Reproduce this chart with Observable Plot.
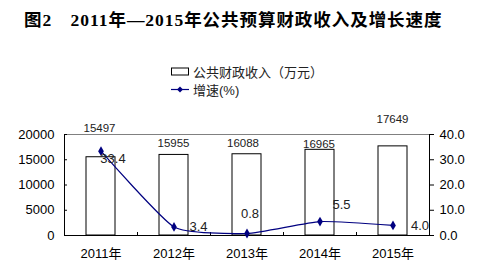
<!DOCTYPE html>
<html><head><meta charset="utf-8">
<script src="https://cdn.jsdelivr.net/npm/d3@7"></script>
<script src="https://cdn.jsdelivr.net/npm/@observablehq/plot@0.6"></script>
<style>
body{margin:0;background:#fff;width:484px;height:269px;position:relative;overflow:hidden;}
#title{position:absolute;left:24px;top:6px;font-weight:bold;font-size:17.5px;font-family:"Liberation Serif","Noto Sans CJK SC",serif;white-space:nowrap;color:#000;letter-spacing:0.95px;}
.leg{position:absolute;left:171px;font-size:13px;font-family:"Liberation Sans","Noto Sans CJK SC",sans-serif;color:#222;white-space:nowrap;display:flex;align-items:center;}
.leg svg{margin-right:4px;}
#chart{position:absolute;left:0;top:110px;}
</style></head>
<body>
<div id="title">图2　2011年—2015年公共预算财政收入及增长速度</div>
<div class="leg" style="top:62px;"><svg width="18" height="9"><rect x="0.5" y="1" width="17" height="7" fill="#fff" stroke="#000"/></svg>公共财政收入（万元）</div>
<div class="leg" style="top:80px;"><svg width="18" height="9"><line x1="0" y1="4.5" x2="18" y2="4.5" stroke="#000080" stroke-width="1.2"/><path d="M9,1.5L12,4.5L9,7.5L6,4.5Z" fill="#000080"/></svg>增速(%)</div>
<div id="chart"></div>
<script>
const years = ["2011年", "2012年", "2013年", "2014年", "2015年"];
const revenue = [15497, 15955, 16088, 16965, 17649];
const growth = [33.4, 3.4, 0.8, 5.5, 4.0];
const revenueTicks = [0, 5000, 10000, 15000, 20000];
const growthTicks = [0, 10, 20, 30, 40];

const k = 20000 / 40; // right axis (growth %) mapped onto left axis scale
const data = years.map((y, i) => ({year: y, revenue: revenue[i], growth: growth[i]}));

const W = 484, H = 159, mt = 24, mb = 34, ml = 64, mr = 55;
const plotW = W - ml - mr, plotH = H - mt - mb;
const step = plotW / years.length;

// label offsets (pixels), mimicking the original placement
const barLabelOff = [[-1.5, -29], [-0.5, -11.5], [-4, -11], [-1, -6], [-0.5, -27.5]];
const lineLabelOff = [[12, 8], [24.5, 0], [3, -20], [21.5, -17], [27, 0]];

const navy = "#000080";

const chart = Plot.plot({
  width: W, height: H,
  marginTop: mt, marginBottom: mb, marginLeft: ml, marginRight: mr,
  style: {fontFamily: "'Liberation Sans','Noto Sans CJK SC',sans-serif", fontSize: "13px", color: "#000", background: "#fff"},
  x: {type: "band", domain: years, paddingInner: 0.6, paddingOuter: 0.3, axis: null, label: null},
  y: {domain: [0, 20000], axis: null, label: null},
  marks: [
    Plot.barY(data, {x: "year", y: "revenue", fill: "#fff", stroke: "#000", strokeWidth: 1}),
    Plot.frame({stroke: "#000"}),
    Plot.ruleY([20000], {stroke: "#808080"}),
    Plot.ruleX(years.slice(1), {x: d => d, dx: -step / 2, insetTop: plotH - 3, stroke: "#000"}),
    Plot.tickY(revenueTicks, {y: d => d, insetRight: plotW - 3, stroke: "#000"}),
    Plot.axisY({anchor: "left", label: null, ticks: revenueTicks, tickSize: 0, tickPadding: 10, fontSize: 13, tickFormat: d => String(d)}),
    Plot.axisY({anchor: "right", label: null, ticks: growthTicks.map(v => v * k), tickSize: 4, tickPadding: 6, fontSize: 13, tickFormat: d => (d / k).toFixed(1)}),
    Plot.axisX({anchor: "bottom", label: null, tickSize: 0, tickPadding: 13, fontSize: 13}),
    Plot.line(data, {x: "year", y: d => d.growth * k, stroke: navy, strokeWidth: 1.2, curve: "cardinal", tension: 0.5}),
    Plot.dot(data, {x: "year", y: d => d.growth * k, symbol: "diamond", r: 3, fill: navy, stroke: "none"}),
    ...data.map((d, i) => Plot.text([d], {x: "year", y: "revenue", text: d => String(d.revenue), dx: barLabelOff[i][0], dy: barLabelOff[i][1], fontSize: 11.5, fill: "#222"})),
    ...data.map((d, i) => Plot.text([d], {x: "year", y: d => d.growth * k, text: d => d.growth.toFixed(1), dx: lineLabelOff[i][0], dy: lineLabelOff[i][1], fontSize: 13, fill: "#222"}))
  ]
});
document.getElementById("chart").appendChild(chart);
</script>
</body></html>
